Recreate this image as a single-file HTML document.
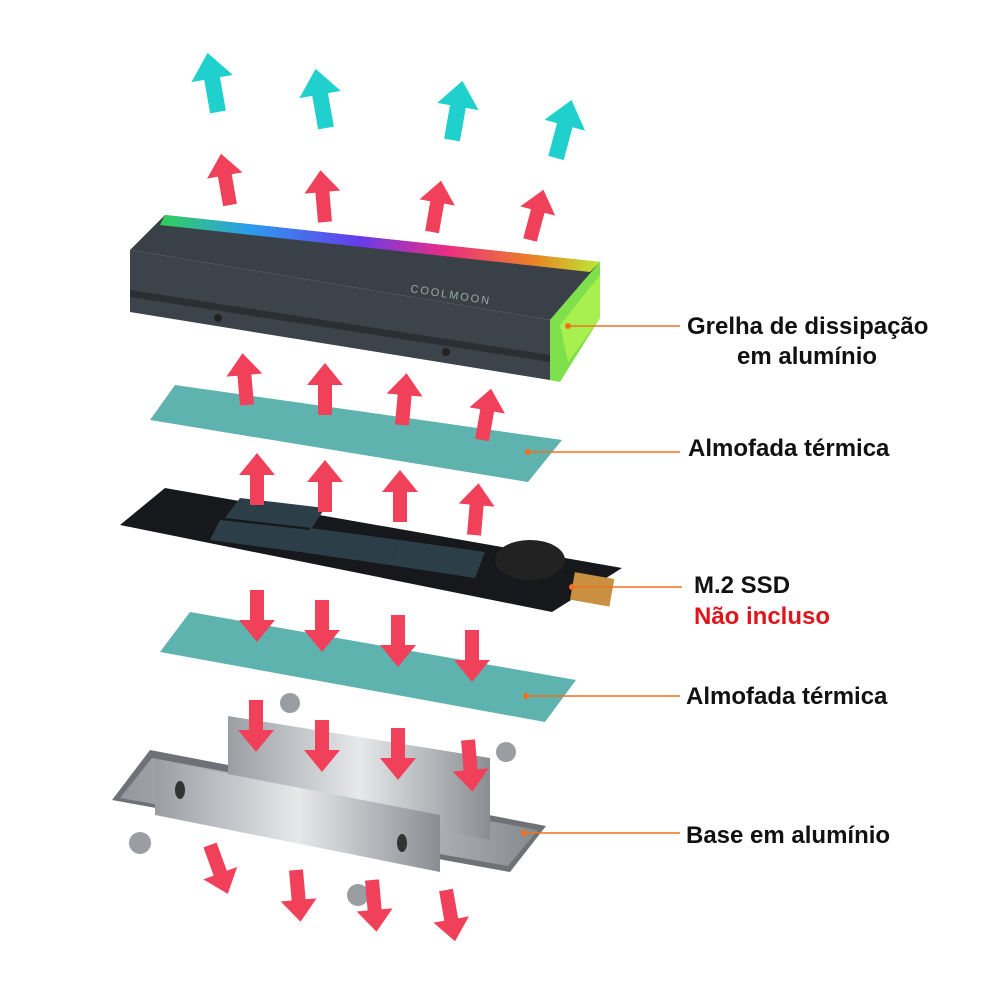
<!DOCTYPE html>
<html><head><meta charset="utf-8"><style>
html,body{margin:0;padding:0;background:#fff;width:1000px;height:1000px;overflow:hidden}
svg text{font-family:"Liberation Sans",sans-serif;font-weight:bold}
</style></head><body>
<svg width="1000" height="1000" viewBox="0 0 1000 1000" xmlns="http://www.w3.org/2000/svg">
<defs>
<linearGradient id="rgb" x1="0" x2="1" y1="0" y2="0">
<stop offset="0" stop-color="#2fe05a"/><stop offset="0.2" stop-color="#2aa8ff"/><stop offset="0.45" stop-color="#6a3cff"/><stop offset="0.65" stop-color="#ff2a8a"/><stop offset="0.85" stop-color="#ff8a20"/><stop offset="1" stop-color="#c8ff30"/>
</linearGradient>
<linearGradient id="metal" x1="0" x2="1"><stop offset="0" stop-color="#9a9ea3"/><stop offset="0.5" stop-color="#e6e8ea"/><stop offset="1" stop-color="#8a8e92"/></linearGradient>
<g id="ra"><polygon points="-7,0 7,0 7,-30 18,-30 0,-52 -18,-30 -7,-30" fill="#f0405a"/></g>
<g id="ca"><polygon points="-8,0 8,0 8,-34 21,-34 0,-60 -21,-34 -8,-34" fill="#1fd0cc"/></g>
</defs>
<use href="#ca" transform="translate(218,112) rotate(-10)"/>
<use href="#ca" transform="translate(326,128) rotate(-10)"/>
<use href="#ca" transform="translate(452,140) rotate(10)"/>
<use href="#ca" transform="translate(556,158) rotate(15)"/>
<use href="#ra" transform="translate(230,205) rotate(-10)"/>
<use href="#ra" transform="translate(325,222) rotate(-5)"/>
<use href="#ra" transform="translate(432,232) rotate(10)"/>
<use href="#ra" transform="translate(530,240) rotate(15)"/>
<!-- heatsink -->
<polygon points="165,215 600,262 550,320 130,250" fill="#3a4048"/>
<polygon points="165,215 600,262 590,272 160,225" fill="url(#rgb)" opacity="0.9"/>
<polygon points="130,250 550,320 550,380 130,312" fill="#3d434b"/>
<polygon points="130,290 550,355 550,362 130,297" fill="#2a2f35"/>
<polygon points="550,320 600,262 600,318 560,382 550,380" fill="#7ee04a"/>
<polygon points="560,325 600,275 600,318 568,362" fill="#a8f050"/>
<text x="410" y="292" font-size="11" fill="#9aa" transform="rotate(9 410 292)" style="font-weight:normal;letter-spacing:2px">COOLMOON</text>
<circle cx="218" cy="318" r="4" fill="#222"/><circle cx="446" cy="352" r="4" fill="#222"/>
<!-- pad 1 -->
<polygon points="150,420 175,385 562,440 528,482" fill="#5fb3ae"/>
<use href="#ra" transform="translate(247,405) rotate(-5)"/>
<use href="#ra" transform="translate(325,415)"/>
<use href="#ra" transform="translate(402,425) rotate(5)"/>
<use href="#ra" transform="translate(482,440) rotate(10)"/>
<!-- SSD -->
<polygon points="120,525 165,488 622,568 552,612" fill="#16181b"/>
<polygon points="220,520 310,530 300,552 210,540" fill="#2c3f48"/>
<polygon points="310,528 400,540 390,565 300,552" fill="#2c3f48"/>
<polygon points="400,540 485,552 475,578 390,565" fill="#2c3f48"/>
<polygon points="240,498 325,508 312,528 225,518" fill="#2c3f48"/>
<ellipse cx="530" cy="560" rx="35" ry="20" fill="#222"/>
<rect x="572" y="575" width="40" height="28" fill="#c89040" transform="rotate(10 590 590)"/>
<use href="#ra" transform="translate(257,505)"/>
<use href="#ra" transform="translate(325,512)"/>
<use href="#ra" transform="translate(400,522)"/>
<use href="#ra" transform="translate(474,535) rotate(5)"/>
<!-- pad 2 -->
<polygon points="160,652 190,612 576,680 545,722" fill="#5fb3ae"/>
<use href="#ra" transform="translate(257,590) rotate(180)"/>
<use href="#ra" transform="translate(322,600) rotate(180)"/>
<use href="#ra" transform="translate(398,615) rotate(180)"/>
<use href="#ra" transform="translate(472,630) rotate(180)"/>
<!-- base -->
<polygon points="112,800 150,750 546,826 510,872" fill="#6e7277"/>
<polygon points="120,798 152,758 538,830 508,866" fill="url(#metal)" opacity="0.85"/>
<polygon points="228,716 490,758 490,840 228,790" fill="url(#metal)"/>
<polygon points="155,760 440,815 440,872 155,815" fill="url(#metal)"/>
<ellipse cx="180" cy="790" rx="5" ry="9" fill="#333"/><ellipse cx="402" cy="843" rx="5" ry="9" fill="#333"/>
<use href="#ra" transform="translate(256,700) rotate(180)"/>
<use href="#ra" transform="translate(322,720) rotate(180)"/>
<use href="#ra" transform="translate(398,728) rotate(180)"/>
<use href="#ra" transform="translate(468,740) rotate(175)"/>
<g fill="#9a9ea2"><circle cx="290" cy="703" r="10"/><circle cx="506" cy="752" r="10"/><circle cx="140" cy="843" r="11"/><circle cx="358" cy="895" r="11"/></g>
<use href="#ra" transform="translate(210,845) rotate(160)"/>
<use href="#ra" transform="translate(296,870) rotate(175)"/>
<use href="#ra" transform="translate(372,880) rotate(175)"/>
<use href="#ra" transform="translate(446,890) rotate(170)"/>
<g stroke="#f07020" stroke-width="1.5"><line x1="568" y1="326" x2="680" y2="326"/><line x1="528" y1="452" x2="680" y2="452"/><line x1="572" y1="587" x2="682" y2="587"/><line x1="526" y1="696" x2="680" y2="696"/><line x1="524" y1="833" x2="680" y2="833"/></g>
<g fill="#f07020"><circle cx="568" cy="326" r="3"/><circle cx="528" cy="452" r="3"/><circle cx="572" cy="587" r="3"/><circle cx="526" cy="696" r="3"/><circle cx="524" cy="833" r="3"/></g>
<g font-size="24" fill="#111">
<text x="687" y="334">Grelha de dissipação</text>
<text x="737" y="364">em alumínio</text>
<text x="688" y="456">Almofada térmica</text>
<text x="694" y="593">M.2 SSD</text>
<text x="694" y="624" fill="#e0151c">Não incluso</text>
<text x="686" y="704">Almofada térmica</text>
<text x="686" y="843">Base em alumínio</text>
</g>
</svg>
</body></html>
